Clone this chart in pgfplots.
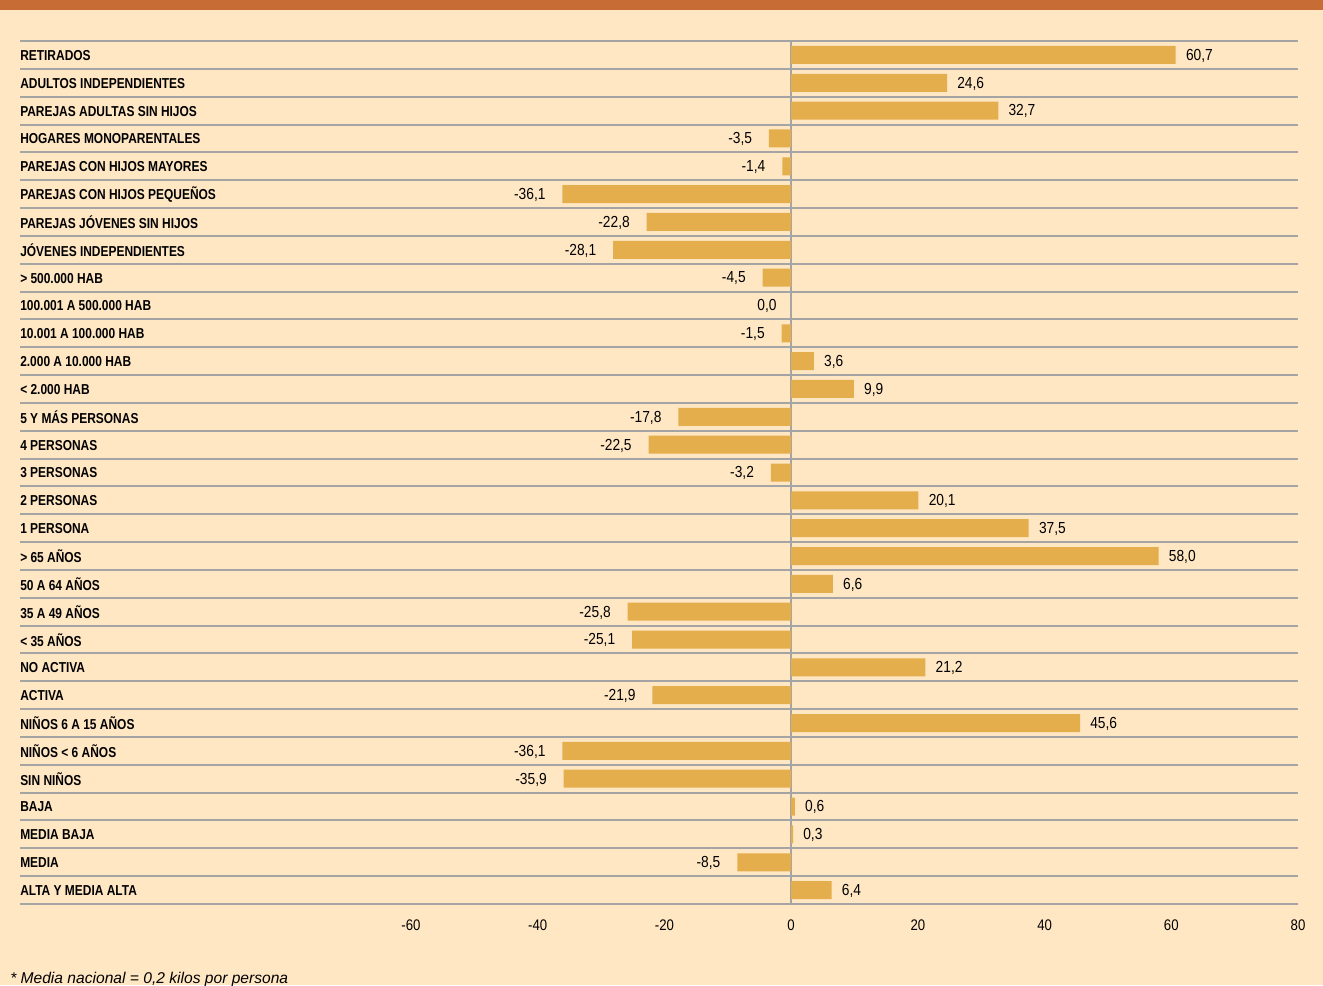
\documentclass[border=0pt]{standalone}
\usepackage{fontspec}
\setmainfont{Liberation Sans}[FakeStretch=0.86]
\newfontfamily\labelfont{Liberation Sans}[FakeStretch=0.83]
\newfontfamily\notefont{Liberation Sans}
\usepackage{pgfplots}
\usepackage{pgfplotstable}
\pgfplotsset{compat=1.18}

\definecolor{fondo}{HTML}{FFE7C4}
\definecolor{banda}{HTML}{C86C35}
\definecolor{barra}{HTML}{E5AE4C}
\definecolor{raya}{HTML}{A4A4A4}

\pgfplotstableread[col sep=semicolon]{
pos;etiqueta;valor
0;RETIRADOS;60.7
1;ADULTOS INDEPENDIENTES;24.6
2;PAREJAS ADULTAS SIN HIJOS;32.7
3;HOGARES MONOPARENTALES;-3.5
4;PAREJAS CON HIJOS MAYORES;-1.4
5;PAREJAS CON HIJOS PEQUEÑOS;-36.1
6;PAREJAS JÓVENES SIN HIJOS;-22.8
7;JÓVENES INDEPENDIENTES;-28.1
8;> 500.000 HAB;-4.5
9;100.001 A 500.000 HAB;0.0
10;10.001 A 100.000 HAB;-1.5
11;2.000 A 10.000 HAB;3.6
12;< 2.000 HAB;9.9
13;5 Y MÁS PERSONAS;-17.8
14;4 PERSONAS;-22.5
15;3 PERSONAS;-3.2
16;2 PERSONAS;20.1
17;1 PERSONA;37.5
18;> 65 AÑOS;58.0
19;50 A 64 AÑOS;6.6
20;35 A 49 AÑOS;-25.8
21;< 35 AÑOS;-25.1
22;NO ACTIVA;21.2
23;ACTIVA;-21.9
24;NIÑOS 6 A 15 AÑOS;45.6
25;NIÑOS < 6 AÑOS;-36.1
26;SIN NIÑOS;-35.9
27;BAJA;0.6
28;MEDIA BAJA;0.3
29;MEDIA;-8.5
30;ALTA Y MEDIA ALTA;6.4
}\datos

\begin{document}
\begin{tikzpicture}
% fondo y banda superior (1 px = 0.75 pt)
\path[use as bounding box, fill=fondo] (0,0) rectangle (992.25pt,738.75pt);
\fill[banda] (0,731.25pt) rectangle (992.25pt,738.75pt);

\begin{axis}[
  at={(15pt,60.75pt)}, anchor=south west,
  scale only axis, width=958.5pt, height=647.25pt,
  xbar, bar width=13.5pt,
  xmin=-121.71, xmax=80,
  ymin=-0.5, ymax=30.5, y dir=reverse,
  xtick={-60,-40,...,80},
  ytick={0,...,30},
  yticklabels from table={\datos}{etiqueta},
  minor ytick={-0.5,0.5,...,30.5},
  yminorgrids,
  minor grid style={draw=raya, line width=1.5pt},
  extra x ticks={0}, extra x tick labels={},
  extra x tick style={grid=major, major grid style={draw=raya, line width=1pt}},
  axis line style={draw=none},
  tick style={draw=none},
  major tick length=0pt, minor tick length=0pt,
  /pgf/number format/assume math mode=true,
  yticklabel style={anchor=west, inner xsep=0pt, yshift=-0.4pt,
    font=\labelfont\fontsize{10.8}{12}\selectfont\bfseries},
  xticklabel style={anchor=north, inner sep=0pt, yshift=-12pt,
    font=\fontsize{11.5}{13}\selectfont},
  nodes near coords={\pgfmathprintnumber[fixed,fixed zerofill,precision=1,use comma,assume math mode=true]{\pgfplotspointmeta}},
  nodes near coords align={horizontal},
]
\addplot[draw=none, fill=barra,
  visualization depends on={rawx \as \val},
  every node near coord/.append style={font=\fontsize{12}{13}\selectfont,
    inner xsep=7.5pt, inner ysep=0pt, text=black, yshift=-0.6pt,
    xshift={-5pt*(\val<0)-33pt*(\val==0)}}]
  table[x=valor, y=pos]{\datos};
\end{axis}

\node[anchor=base west, inner sep=0pt, font=\notefont\itshape\fontsize{11.7}{14}\selectfont]
  at (7.5pt,1.5pt) {* Media nacional = 0,2 kilos por persona};
\end{tikzpicture}
\end{document}
